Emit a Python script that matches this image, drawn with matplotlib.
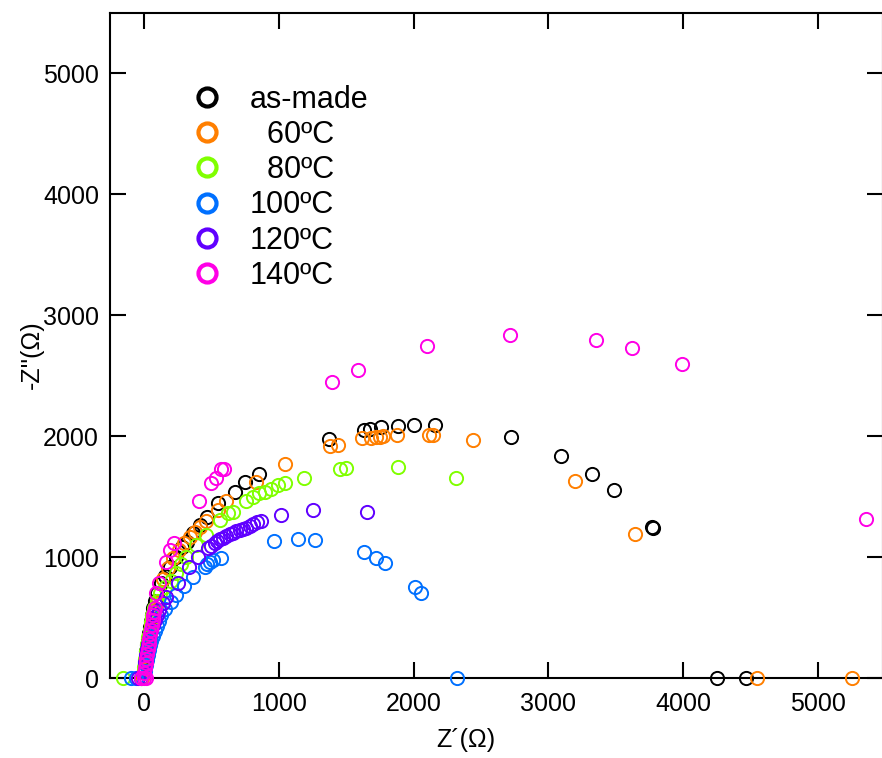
import matplotlib
matplotlib.use("Agg")
import matplotlib.pyplot as plt
from matplotlib.lines import Line2D

plt.rcParams['font.family'] = ['Liberation Sans', 'DejaVu Sans']

labels = ["as-made", "  60ºC", "  80ºC", "100ºC", "120ºC", "140ºC"]
colors = ["#000000", "#FF7F00", "#80FF00", "#0070FF", "#6000FF", "#FF00E6"]

asmade_x = [4463, 4248, 3773, 3765, 3489, 3323, 3096, 2721, 2156, 2002, 1886, 1761, 1681, 1632, 1373,
            852, 753, 674, 551, 469, 415, 365, 321, 287, 242, 193, 156, 126, 100, 85, 72, 62, 54,
            47, 40, 33, 26, 20, 14, 8, 2, -20]
asmade_y = [0, 0, 1239, 1245, 1554, 1689, 1838, 1995, 2094, 2094, 2086, 2075, 2061, 2053, 1976,
            1686, 1620, 1542, 1446, 1335, 1267, 1198, 1128, 1087, 1004, 921, 844, 784, 700, 640, 580, 520,
            470, 420, 370, 320, 270, 220, 170, 120, 60, 0]

c60_x = [5248, 4544, 3642, 3200, 2444, 2143, 2113, 1879, 1773, 1748, 1719, 1687, 1620, 1437, 1380,
         1049, 830, 612, 551, 464, 415, 378, 341, 300, 260, 220, 180, 140, 99, 80, 65, 55, 45,
         36, 28, 20, 12, 5, -10]
c60_y = [0, 0, 1189, 1631, 1970, 2012, 2012, 2009, 2001, 1995, 1995, 1989, 1981, 1931, 1915,
         1771, 1625, 1460, 1391, 1302, 1247, 1211, 1170, 1120, 1060, 990, 910, 820, 618, 560, 500, 440, 380,
         320, 260, 200, 140, 70, 0]

c80_x = [2316, 1884, 1501, 1452, 1185, 1044, 995, 946, 901, 854, 810, 761, 661, 625, 563, 459,
         390, 316, 280, 242, 200, 160, 119, 95, 78, 65, 54, 44, 35, 27, 19, 12, 5, -150]
c80_y = [1653, 1747, 1733, 1728, 1658, 1612, 1598, 1562, 1542, 1529, 1501, 1460, 1377, 1363, 1308, 1184,
         1101, 1004, 940, 867, 800, 750, 701, 640, 580, 520, 460, 400, 340, 280, 220, 160, 90, 0]

c100_x = [2322, 2052, 2010, 1785, 1719, 1630, 1272, 1143, 963, 575, 514, 490, 470, 452, 365, 300,
          240, 200, 156, 130, 110, 95, 80, 68, 57, 47, 38, 30, 22, 14, 6, -60, -95]
c100_y = [0, 701, 753, 949, 993, 1041, 1142, 1151, 1137, 991, 977, 960, 940, 916, 834, 760,
          690, 630, 571, 520, 470, 430, 390, 350, 310, 270, 230, 190, 150, 110, 60, 0, 0]

c120_x = [1657, 1254, 1015, 872, 840, 810, 785, 761, 735, 711, 686, 661, 636, 612, 587, 563, 545,
          526, 500, 477, 400, 335, 254, 168, 140, 115, 95, 80, 68, 57, 47, 38, 30, 22, 14, 7, -40]
c120_y = [1377, 1391, 1349, 1302, 1290, 1275, 1260, 1244, 1235, 1225, 1213, 1203, 1190, 1175, 1160, 1148, 1130,
          1115, 1095, 1074, 1000, 921, 784, 673, 620, 560, 520, 480, 440, 400, 360, 320, 280, 240, 190, 130, 0]

c140_x = [5353, 3990, 3617, 3353, 2716, 2099, 1588, 1393, 593, 575, 538, 501, 410, 222, 193, 168,
          113, 89, 84, 78, 72, 66, 60, 54, 48, 42, 36, 30, 25, 20, 15, 10, 5, 0, -20, 20]
c140_y = [1316, 2599, 2732, 2795, 2839, 2743, 2550, 2445, 1730, 1725, 1653, 1612, 1465, 1115, 1060, 963,
          789, 701, 580, 550, 520, 480, 440, 400, 360, 320, 280, 240, 200, 160, 120, 80, 40, 0, 0, 0]

series_x = [asmade_x, c60_x, c80_x, c100_x, c120_x, c140_x]
series_y = [asmade_y, c60_y, c80_y, c100_y, c120_y, c140_y]

xticks = [0, 1000, 2000, 3000, 4000, 5000]
yticks = [0, 1000, 2000, 3000, 4000, 5000]

fig = plt.figure(figsize=(8.82, 7.58), dpi=100)
ax = fig.add_axes([110 / 882, 80 / 758, 773 / 882, 665 / 758])

for xs, ys, c in zip(series_x, series_y, colors):
    ax.plot(xs, ys, linestyle='none', marker='o', markersize=9.5, markerfacecolor='none',
            markeredgecolor=c, markeredgewidth=1.4, clip_on=False, zorder=3)

ax.set_xlim(-250, 5480)
ax.set_ylim(0, 5500)
ax.set_xticks(xticks)
ax.set_yticks(yticks)
ax.tick_params(direction='in', length=11.5, width=1.5, labelsize=18, top=True, right=True,
               pad=8)
ax.tick_params(axis='x', pad=10)
for s in ax.spines.values():
    s.set_linewidth(1.5)

ax.set_xlabel("Z´(Ω)", fontsize=18)
ax.set_ylabel("-Z''(Ω)", fontsize=18)
ax.xaxis.set_label_coords(0.46, -0.075)
ax.yaxis.set_label_coords(-0.085, 0.486)

handles = [Line2D([], [], linestyle='none', marker='o', markersize=13, markerfacecolor='none',
                  markeredgecolor=c, markeredgewidth=3) for c in colors]
leg = ax.legend(handles, labels, loc='upper left', bbox_to_anchor=(0.0895, 0.9105), frameon=False,
                fontsize=22, handletextpad=0.91, labelspacing=0.17, handlelength=1.0,
                borderaxespad=0)

fig.savefig("out.png", dpi=100)
